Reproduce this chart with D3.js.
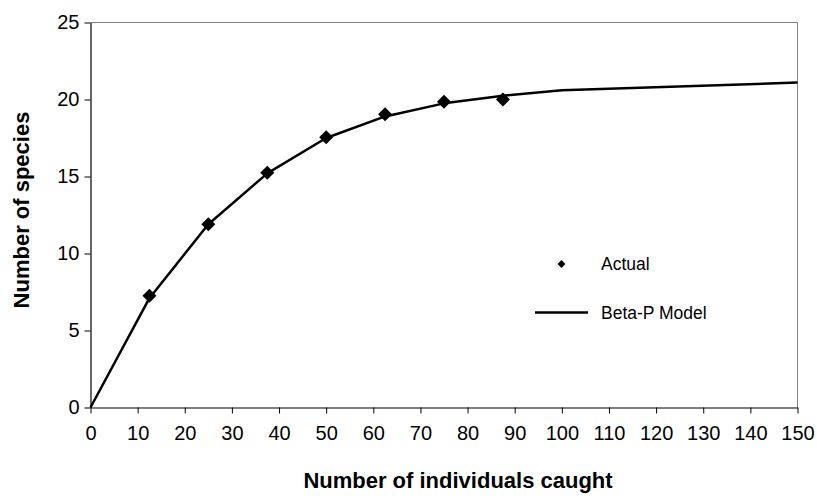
<!DOCTYPE html>
<html>
<head>
<meta charset="utf-8">
<script src="https://cdn.jsdelivr.net/npm/d3@7"></script>
<style>
  body { margin: 0; background: #fff; }
  svg { font-family: "Liberation Sans", Arial, sans-serif; }
  .label { font-family: "Liberation Sans", Arial, sans-serif; font-size: 22px; font-weight: bold; fill: #000; }
  .legend { font-family: "Liberation Sans", Arial, sans-serif; font-size: 17.5px; fill: #000; }
</style>
</head>
<body>
<svg width="817" height="496"></svg>
<script>
// Observed species counts
const actualX = [12.5, 25, 37.5, 50, 62.5, 75, 87.5];
const actualY = [7.25, 11.9, 15.25, 17.55, 19.05, 19.85, 20.0];

// Beta-P model curve
const modelX = [0, 12.5, 25, 37.5, 50, 62.5, 75, 87.5, 100, 150];
const modelY = [0, 7.1, 11.9, 15.2, 17.5, 18.9, 19.75, 20.25, 20.6, 21.1];

const xTicks = d3.range(0, 151, 10);
const yTicks = [0, 5, 10, 15, 20, 25];

var pArea = [90.5, 22.5, 797.5, 407.5];

var xScale = d3.scaleLinear().domain([0, 150]).range([pArea[0], pArea[2]]);
var yScale = d3.scaleLinear().domain([0, 25]).range([pArea[3], pArea[1]]);

var svg = d3.select("svg");
var g = svg.append("g");

// plot frame (top and right in grey)
g.append("path")
  .attr("d", `M${pArea[0]},${pArea[1]}H${pArea[2]}V${pArea[3]}`)
  .attr("fill", "none")
  .attr("stroke", "#808080")
  .attr("stroke-width", 1);

// x-axis
var xAxis = g.append("g")
  .attr("transform", `translate(0, ${pArea[3]})`)
  .call(d3.axisBottom(xScale).tickValues(xTicks).tickSize(6).tickPadding(12).tickSizeOuter(0))
  .attr("font-family", "Liberation Sans, Arial, sans-serif")
  .attr("font-size", 20);
xAxis.select(".domain").attr("stroke", "#000").attr("stroke-width", 1.2);
xAxis.selectAll(".tick line").attr("stroke", "#000");
xAxis.selectAll(".tick text").attr("fill", "#000");

// y-axis
var yAxis = g.append("g")
  .attr("transform", `translate(${pArea[0]}, 0)`)
  .call(d3.axisLeft(yScale).tickValues(yTicks).tickSize(6).tickPadding(5).tickSizeOuter(0))
  .attr("font-family", "Liberation Sans, Arial, sans-serif")
  .attr("font-size", 20);
yAxis.select(".domain").attr("stroke", "#000").attr("stroke-width", 1.2);
yAxis.selectAll(".tick line").attr("stroke", "#000");
yAxis.selectAll(".tick text").attr("fill", "#000");

// axis titles
g.append("text")
  .attr("class", "label")
  .attr("x", 458)
  .attr("y", 488)
  .attr("text-anchor", "middle")
  .text("Number of individuals caught");

g.append("text")
  .attr("class", "label")
  .attr("transform", "rotate(-90)")
  .attr("x", -210)
  .attr("y", 29)
  .attr("text-anchor", "middle")
  .text("Number of species");

// model line
var line = d3.line()
  .x(d => xScale(d[0]))
  .y(d => yScale(d[1]));

g.append("path")
  .datum(modelX.map((x, i) => [x, modelY[i]]))
  .attr("fill", "none")
  .attr("stroke", "#000")
  .attr("stroke-width", 2.5)
  .attr("stroke-linejoin", "round")
  .attr("d", line);

// diamonds
function diamond(r) {
  return `M0,${-r}L${r},0L0,${r}L${-r},0Z`;
}

g.selectAll(".dot")
  .data(actualX.map((x, i) => [x, actualY[i]]))
  .enter()
  .append("path")
  .attr("class", "dot")
  .attr("transform", d => `translate(${xScale(d[0])},${yScale(d[1])})`)
  .attr("d", diamond(7))
  .attr("fill", "#000");

// legend
var legend = g.append("g");
legend.append("path")
  .attr("transform", "translate(561.5,264)")
  .attr("d", diamond(4))
  .attr("fill", "#000");
legend.append("text")
  .attr("class", "legend")
  .attr("x", 601)
  .attr("y", 269.5)
  .text("Actual");
legend.append("line")
  .attr("x1", 535).attr("x2", 588)
  .attr("y1", 312.5).attr("y2", 312.5)
  .attr("stroke", "#000")
  .attr("stroke-width", 2.5);
legend.append("text")
  .attr("class", "legend")
  .attr("x", 601)
  .attr("y", 318.5)
  .text("Beta-P Model");
</script>
</body>
</html>
